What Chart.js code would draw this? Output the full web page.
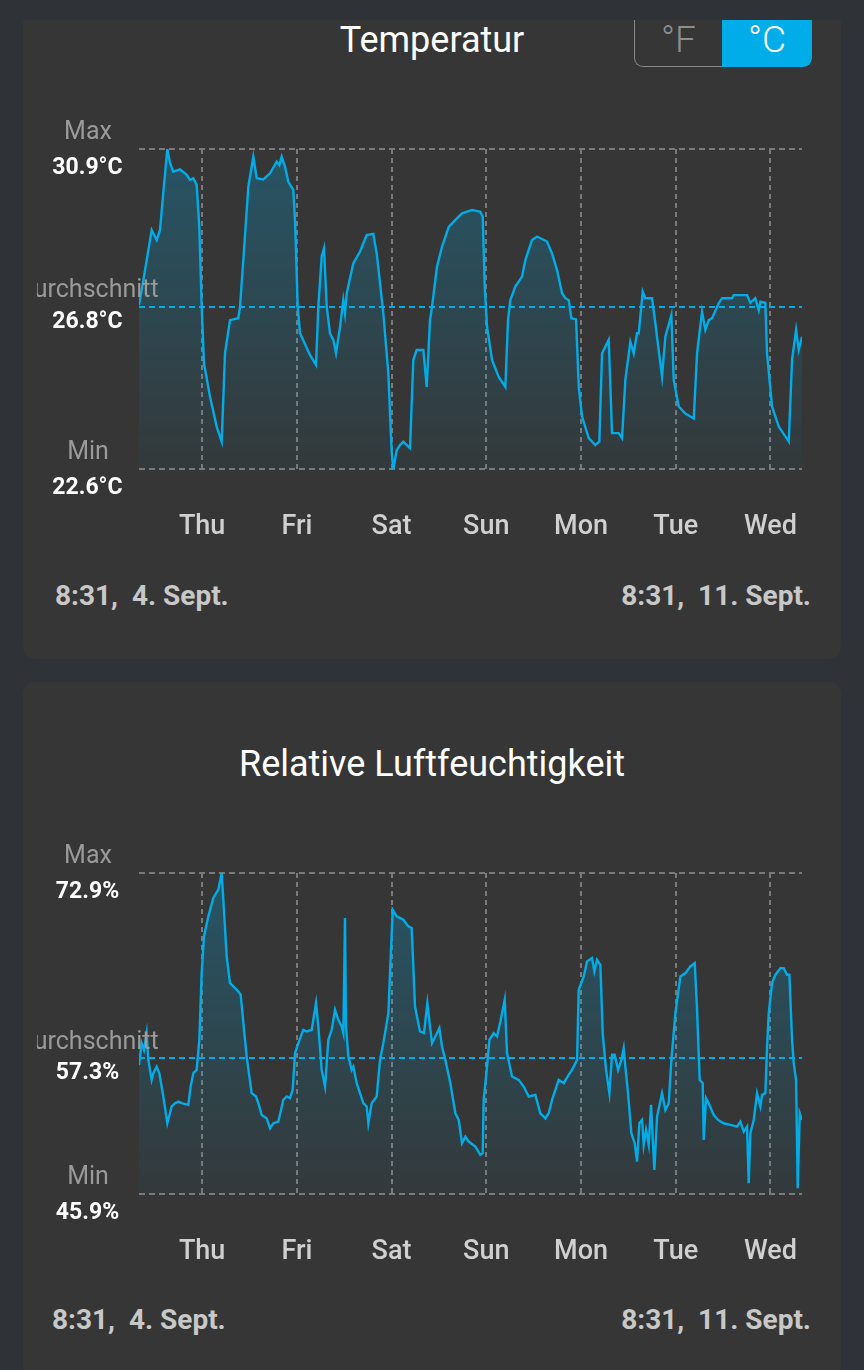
<!DOCTYPE html>
<html lang="de">
<head>
<meta charset="utf-8">
<title>Temperatur / Relative Luftfeuchtigkeit</title>
<script src="https://cdn.jsdelivr.net/npm/chart.js@4.4.1/dist/chart.umd.min.js"></script>
<style>
  html, body { margin: 0; padding: 0; }
  body {
    width: 864px; height: 1370px; position: relative; overflow: hidden;
    background: #2f3236; font-family: Roboto, "Noto Sans", sans-serif;
  }
  .card { position: absolute; left: 23px; width: 818px; background: #363636; }
  #card-temp { top: 20px; height: 639px; border-radius: 0 0 12px 12px; }
  #card-hum { top: 682px; height: 720px; border-radius: 12px; }
  .title {
    position: absolute; left: 0; width: 864px; text-align: center;
    color: #fff; font-size: 36px; line-height: 40px;
  }
  .toggle { position: absolute; top: 20px; height: 47px; font-size: 37px; font-weight: 300;
    line-height: 40px; text-align: center; box-sizing: border-box; }
  #unit-f { left: 634px; width: 88px; color: #8e8e8e; border-left: 1.5px solid #888;
    border-bottom: 1.5px solid #888; border-bottom-left-radius: 9px; }
  #unit-c { left: 722px; width: 90px; color: #fff; background: #00ade8; border-bottom-right-radius: 9px; }
  .foot { position: absolute; color: #c8c8c8; font-size: 28px; font-weight: bold;
    line-height: 32px; white-space: pre; }
  .chart-box { position: absolute; left: 37px; width: 790px; }
</style>
</head>
<body>
<div class="card" id="card-temp"></div>
<div class="card" id="card-hum"></div>

<div class="title" style="top:20px">Temperatur</div>
<div class="toggle" id="unit-f">°F</div>
<div class="toggle" id="unit-c">°C</div>
<div class="chart-box" style="top:90px;height:459px"><canvas id="chart-temp"></canvas></div>
<div class="foot" style="left:55px;top:580px">8:31,  4. Sept.</div>
<div class="foot" style="right:53px;top:580px">8:31,  11. Sept.</div>

<div class="title" style="top:744px">Relative Luftfeuchtigkeit</div>
<div class="chart-box" style="top:814px;height:460px"><canvas id="chart-hum"></canvas></div>
<div class="foot" style="left:52px;top:1304px">8:31,  4. Sept.</div>
<div class="foot" style="right:53px;top:1304px">8:31,  11. Sept.</div>

<script>
// hours since 8:31, 4. Sept.
var dayTicks = [16, 40, 64, 88, 112, 136, 160];
var dayNames = ['Thu', 'Fri', 'Sat', 'Sun', 'Mon', 'Tue', 'Wed'];

var tempStats = { min: 22.6, avg: 26.8, max: 30.9 };
var humStats = { min: 45.9, avg: 57.3, max: 72.9 };

var tempHours = [0, 0.68, 3.22, 4.49, 5.32, 6.16, 7.17, 7.86, 8.69, 10.39,
    12.09, 12.92, 13.76, 14.62, 15.28, 15.89, 16.47, 17.99, 19.69, 20.96,
    21.79, 23.06, 25.16, 25.6, 26.43, 27.70, 28.97, 29.83, 31.50, 33.20,
    34.90, 35.56, 36.16, 37.0, 37.84, 39.10, 39.53, 40.22, 40.80, 43.33,
    44.86, 45.44, 46.30, 46.88, 47.57, 48.40, 49.24, 49.92, 50.94, 51.77,
    52.20, 52.64, 54.31, 56.01, 57.70, 59.38, 60.24, 61.91, 63.18, 64.04,
    64.45, 65.31, 66.14, 66.98, 68.68, 69.51, 70.37, 72.05, 72.91, 73.74,
    74.25, 75.52, 76.79, 78.49, 80.16, 81.85, 84.39, 86.49, 87.10, 87.61,
    88.19, 89.46, 91.15, 92.83, 93.51, 94.09, 95.36, 97.06, 97.90, 99.59,
    100.86, 103.39, 104.66, 105.93, 107.20, 108.04, 108.90, 109.56, 110.75, 111.43,
    112.27, 113.96, 115.63, 116.65, 117.33, 119.03, 119.86, 121.56, 122.40, 123.24,
    124.50, 125.36, 126.20, 126.63, 127.64, 128.30, 130.0, 130.84, 132.54, 133.37,
    134.89, 135.50, 136.77, 138.44, 140.57, 141.41, 142.67, 143.51, 144.37, 145.21,
    146.90, 147.74, 150.27, 150.70, 154.07, 154.91, 156.17, 157.04, 157.45, 158.71,
    159.14, 160.41, 162.11, 164.65, 165.48, 166.50, 167.18, 168];
var tempValues = [26.85, 27.24, 28.80, 28.54, 28.80, 29.76, 30.90, 30.54, 30.31, 30.37,
    30.23, 30.10, 30.14, 29.97, 28.88, 26.81, 25.34, 24.48, 23.70, 23.31,
    25.60, 26.46, 26.51, 26.81, 28.02, 29.92, 30.70, 30.14, 30.11, 30.27,
    30.57, 30.48, 30.70, 30.44, 30.05, 29.84, 29.06, 26.81, 26.12, 25.56,
    25.30, 26.81, 28.11, 28.32, 26.81, 26.12, 25.95, 25.60, 26.29, 26.98,
    26.64, 27.16, 27.94, 28.24, 28.67, 28.70, 28.19, 26.64, 25.08, 23.01,
    22.60, 23.09, 23.22, 23.31, 23.14, 25.43, 25.69, 25.69, 24.73, 26.46,
    26.81, 27.85, 28.37, 28.88, 29.06, 29.23, 29.32, 29.27, 29.14, 27.33,
    26.29, 25.43, 24.99, 24.73, 26.46, 26.98, 27.33, 27.59, 28.02, 28.54,
    28.63, 28.50, 28.19, 27.76, 27.16, 27.03, 26.98, 26.51, 26.48, 24.73,
    23.96, 23.40, 23.22, 23.31, 25.60, 25.95, 23.53, 23.53, 23.40, 24.91,
    25.90, 25.60, 26.12, 26.12, 27.20, 27.03, 27.03, 26.38, 24.99, 26.03,
    26.59, 24.91, 24.22, 24.04, 23.91, 25.60, 26.68, 26.21, 26.46, 26.51,
    26.90, 27.03, 27.03, 27.11, 27.11, 26.91, 27.03, 26.72, 26.94, 26.91,
    25.60, 24.22, 23.70, 23.31, 25.43, 26.21, 25.69, 26.03];

var humHours = [0, 0.68, 1.27, 1.94, 2.37, 3.21, 3.63, 4.48, 5.15, 6.17,
    7.18, 8.28, 9.12, 9.97, 10.81, 12.50, 13.09, 13.77, 14.61, 15.29,
    15.88, 16.47, 17.57, 18.84, 20.10, 20.95, 21.37, 22.22, 23.06, 23.91,
    25.17, 25.76, 27.28, 28.55, 29.65, 30.24, 31.09, 32.35, 33.20, 34.04,
    35.31, 36.58, 37.42, 38.27, 38.94, 39.53, 40.38, 41.64, 42.49, 43.76,
    44.86, 45.45, 46.29, 47.14, 47.98, 48.83, 49.67, 50.51, 51.36, 51.78,
    52.20, 52.46, 53.05, 53.89, 54.32, 55.16, 56.85, 57.70, 58.12, 58.96,
    60.23, 61.07, 61.92, 63.19, 63.61, 64.28, 65.30, 66.99, 68.25, 69.10,
    69.94, 71.21, 72.22, 73.07, 73.74, 74.25, 75.09, 76.11, 76.78, 77.63,
    78.90, 80.16, 81.01, 81.85, 82.70, 83.54, 85.23, 86.50, 87.09, 87.34,
    88.19, 88.78, 89.88, 90.72, 91.57, 92.67, 93.26, 94.52, 96.21, 97.48,
    98.75, 100.44, 101.70, 102.97, 103.82, 104.66, 106.35, 107.62, 108.88, 109.73,
    111.00, 111.42, 112.69, 113.53, 114.80, 115.39, 116.06, 116.91, 117.50, 118.35,
    119.19, 119.87, 120.54, 121.39, 122.23, 122.82, 123.24, 123.92, 124.76, 125.61,
    126.20, 126.79, 127.47, 127.89, 128.48, 129.16, 129.75, 130.59, 131.27, 132.54,
    133.38, 134.23, 134.90, 135.92, 137.18, 138.45, 139.72, 140.82, 141.41, 142.08,
    142.84, 143.10, 143.69, 144.36, 145.63, 146.73, 148.16, 149.85, 151.54, 152.39,
    153.23, 154.08, 154.50, 154.92, 155.77, 156.61, 157.46, 157.88, 158.72, 159.15,
    159.57, 160.41, 161.26, 162.52, 163.37, 164.21, 164.81, 165.48, 165.91, 166.50,
    166.92, 167.42, 167.85, 168];
var humValues = [56.76, 58.59, 58.03, 59.43, 57.18, 55.50, 56.06, 56.62, 56.06, 54.10,
    51.85, 53.26, 53.54, 53.68, 53.54, 53.40, 54.94, 56.06, 56.34, 58.87,
    64.48, 67.57, 69.25, 70.80, 71.50, 72.90, 70.65, 65.88, 63.64, 63.36,
    62.94, 62.66, 57.46, 54.38, 54.10, 53.54, 52.55, 52.27, 51.43, 51.85,
    51.99, 53.82, 54.10, 53.96, 54.66, 57.75, 58.59, 59.71, 59.57, 59.71,
    61.96, 59.99, 56.34, 54.94, 58.87, 59.71, 61.39, 60.55, 59.99, 59.43,
    69.11, 59.99, 57.46, 56.34, 56.62, 55.22, 53.54, 53.26, 51.85, 53.54,
    54.10, 57.18, 58.59, 61.11, 64.48, 69.81, 69.25, 68.97, 68.41, 68.27,
    61.67, 59.57, 59.43, 61.96, 59.99, 58.59, 59.15, 59.85, 58.31, 57.18,
    55.22, 52.69, 52.13, 50.17, 50.73, 50.31, 49.89, 49.19, 49.33, 53.82,
    56.62, 58.87, 59.43, 59.15, 60.41, 62.24, 57.75, 55.78, 55.50, 54.94,
    54.10, 54.24, 52.69, 52.27, 52.69, 53.82, 55.50, 55.22, 55.92, 56.34,
    57.18, 63.08, 64.20, 65.46, 65.74, 64.62, 65.60, 65.18, 59.43, 56.34,
    54.38, 57.61, 57.61, 56.34, 57.18, 58.17, 56.62, 54.38, 51.01, 50.17,
    48.62, 51.85, 52.13, 50.03, 51.29, 50.03, 53.40, 47.92, 52.41, 54.38,
    52.97, 53.54, 57.18, 61.11, 64.20, 64.48, 65.04, 65.32, 61.39, 55.50,
    55.22, 50.45, 53.96, 53.54, 52.55, 52.13, 51.85, 51.71, 51.57, 51.99,
    51.15, 51.57, 46.80, 51.01, 52.13, 54.38, 53.26, 54.24, 54.38, 58.31,
    61.11, 63.64, 64.34, 64.90, 64.90, 64.34, 64.34, 58.87, 56.90, 55.50,
    46.38, 52.69, 52.27, 52.13];

var LINE_COLOR = '#00ade8';
var GRID_COLOR = '#7a7a7a';

function gradientFill(context) {
    var area = context.chart.chartArea;
    if (!area) return 'rgba(0,170,230,0.12)';
    var g = context.chart.ctx.createLinearGradient(0, area.top, 0, area.bottom);
    g.addColorStop(0, 'rgba(0,170,230,0.27)');
    g.addColorStop(1, 'rgba(0,170,230,0.03)');
    return g;
}

// Max / Durchschnitt / Min labels next to the y axis
var sideLabels = {
    id: 'sideLabels',
    afterDraw: function (chart, args, opts) {
        var ctx = chart.ctx;
        var scale = chart.scales.y;
        ctx.save();
        ctx.textAlign = 'center';
        ctx.textBaseline = 'middle';
        opts.rows.forEach(function (row) {
            var py = scale.getPixelForValue(row.value);
            ctx.font = '25px Roboto';
            ctx.fillStyle = '#9a9a9a';
            ctx.fillText(row.name, 51, py - 16);
            ctx.font = 'bold 23px Roboto';
            ctx.fillStyle = '#ffffff';
            ctx.fillText(row.value.toFixed(1) + opts.unit, 50.5, py + row.gap);
        });
        ctx.restore();
    }
};

function drawChart(canvasId, hours, values, stats, unit) {
    new Chart(document.getElementById(canvasId), {
        type: 'line',
        data: {
            datasets: [{
                data: hours.map(function (h, i) { return { x: h, y: values[i] }; }),
                borderColor: LINE_COLOR,
                borderWidth: 2.4,
                pointRadius: 0,
                tension: 0,
                fill: 'start',
                backgroundColor: gradientFill
            }]
        },
        options: {
            responsive: true,
            maintainAspectRatio: false,
            animation: false,
            layout: { padding: { top: 59, right: 25, left: 0, bottom: 0 } },
            plugins: {
                legend: { display: false },
                tooltip: { enabled: false },
                sideLabels: {
                    unit: unit,
                    rows: [
                        { name: 'Max', value: stats.max, gap: 19 },
                        { name: 'Durchschnitt', value: stats.avg, gap: 15 },
                        { name: 'Min', value: stats.min, gap: 19 }
                    ]
                }
            },
            scales: {
                x: {
                    type: 'linear',
                    min: 0,
                    max: 168,
                    afterBuildTicks: function (s) { s.ticks = dayTicks.map(function (v) { return { value: v }; }); },
                    afterFit: function (s) {
                        s.height = 80;
                        s.paddingLeft = 0;
                        s.paddingRight = 0;
                    },
                    grid: { color: GRID_COLOR, lineWidth: 2, drawTicks: false },
                    border: { display: false, dash: [5, 4] },
                    ticks: {
                        padding: 42,
                        autoSkip: false,
                        maxRotation: 0,
                        color: '#d0d0d0',
                        font: { family: 'Roboto', size: 27, weight: 500 },
                        callback: function (v, i) { return dayNames[i]; }
                    }
                },
                y: {
                    min: stats.min,
                    max: stats.max,
                    afterBuildTicks: function (s) {
                        s.ticks = [stats.min, stats.avg, stats.max].map(function (v) { return { value: v }; });
                    },
                    afterFit: function (s) { s.width = 102; },
                    ticks: { display: false },
                    grid: {
                        drawTicks: false,
                        lineWidth: 2,
                        color: function (c) { return c.tick && c.tick.value === stats.avg ? LINE_COLOR : GRID_COLOR; }
                    },
                    border: { display: false, dash: [6, 4] }
                }
            }
        },
        plugins: [sideLabels]
    });
}

drawChart('chart-temp', tempHours, tempValues, tempStats, '°C');
drawChart('chart-hum', humHours, humValues, humStats, '%');
</script>
</body>
</html>
